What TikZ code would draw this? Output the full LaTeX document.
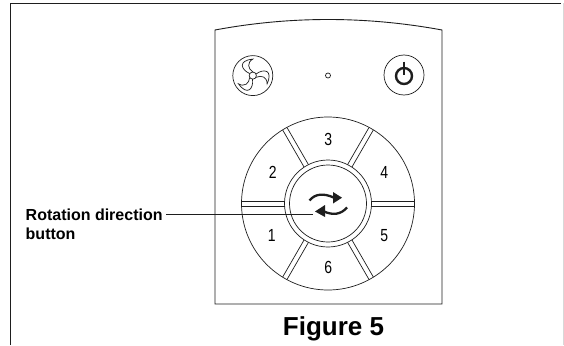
\documentclass[tikz,border=0pt]{standalone}
\usepackage{fontspec}
\setmainfont{Liberation Sans}
\usetikzlibrary{arrows.meta,positioning,calc}
\definecolor{panelink}{HTML}{1E1E1E}
\definecolor{frameedge}{HTML}{D8D8D8}
\newcommand{\keynum}[1]{\scalebox{0.8}[1]{#1}}
\tikzset{
  panelline/.style={draw=panelink, line width=0.7pt},
  keylabel/.style={font=\fontsize{17.5}{17.5}\selectfont, inner sep=0pt},
  calllabel/.style={font=\fontsize{16}{19}\selectfont\bfseries, inner sep=0pt, align=left},
}
\begin{document}
\begin{tikzpicture}[x=1pt,y=-1pt]
  \useasboundingbox (0,0) rectangle (564,345);
  \fill[white] (0,0) rectangle (564,345);

  %% Page frame, open at the bottom
  \draw[panelink, line width=1.3pt] (10.5,345) -- (10.5,3.5) -- (561,3.5);
  \draw[frameedge, line width=1pt] (563,3.5) -- (563,345);

  %% Remote body with curved top
  \draw[panelline, line width=0.9pt] (215,30) .. controls (290,16) and (366,16) .. (442,30)
    -- (442,304) -- (215,304) -- cycle;

  %% Fan button
  \coordinate (fancentre) at (252.8,75.6);
  \draw[panelline] (fancentre) circle (20);
  \draw[panelline] (fancentre) circle (3.6);
  \foreach \a in {0,120,240} {
    \begin{scope}[shift={(fancentre)}, rotate=\a]
      \draw[panelline] (-3,-2) .. controls (-12,-6) and (-15,-15) .. (0,-16.5)
        .. controls (-6,-13) and (-5,-7) .. (0,-3.6);
    \end{scope}
  }

  %% Power button
  \coordinate (powercentre) at (404,75);
  \draw[panelline] (powercentre) circle (20);
  \draw[panelink, line width=2.4pt] (404,76) circle (8);
  \draw[panelink, line width=2.2pt] (404,61.5) -- (404,75);

  %% Indicator light
  \draw[panelline] (328,75.5) circle (2.5);

  %% Speed dial
  \coordinate (dial) at (328,203.5);
  \draw[panelline] (dial) circle (86.5);
  \draw[panelline] (dial) circle (43.5);
  \draw[panelline] (dial) circle (38.5);
  \foreach \a in {0,60,...,300} {
    \begin{scope}[shift={(dial)}, rotate=\a]
      \draw[panelline] (43.4,-2.5) -- (86.4,-2.5);
      \draw[panelline] (43.4,2.5) -- (86.4,2.5);
    \end{scope}
  }

  %% Speed numbers
  \node[keylabel] (key1) at (271.7,235.7) {\keynum{1}};
  \node[keylabel] (key2) at (272.7,172.3) {\keynum{2}};
  \node[keylabel] (key3) at (328.3,139) {\keynum{3}};
  \node[keylabel] (key4) at (384.3,172.3) {\keynum{4}};
  \node[keylabel] (key5) at (384.3,235.7) {\keynum{5}};
  \node[keylabel] (key6) at (328.3,267.7) {\keynum{6}};

  %% Rotation symbol
  \draw[panelink, line width=2.3pt] (309.5,200.5) .. controls (315,193.5) and (324,193) .. (334,197.7);
  \fill[panelink] (342,197.7) -- (333,192) -- (333,203.5) -- cycle;
  \draw[panelink, line width=2.3pt] (347,207.5) .. controls (341,214.5) and (333,215.5) .. (324,211.5);
  \fill[panelink] (315,211.5) -- (325,205) -- (325,217) -- cycle;

  %% Call-out for the centre button
  \coordinate (callstart) at (166,214);
  \coordinate (callend) at (313,214);
  \node[calllabel, anchor=base west] (calltext) at (25.5,239) {Rotation direction\\button};
  \draw[panelline] (callstart) -- (callend);

  %% Caption
  \node[font=\fontsize{26}{26}\selectfont\bfseries, inner sep=0pt, anchor=base] (caption) at (333.5,335) {Figure 5};
\end{tikzpicture}
\end{document}
